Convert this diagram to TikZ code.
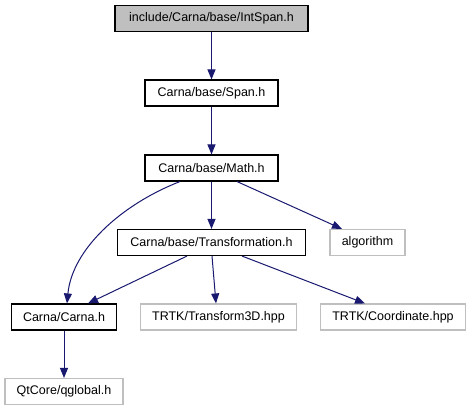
\documentclass[tikz,border=0pt]{standalone}
\usepackage{fontspec}
\setmainfont{Liberation Sans}
\usetikzlibrary{arrows.meta}
\definecolor{edgeblue}{HTML}{191970}
\definecolor{extgray}{HTML}{BFBFBF}
\begin{document}
\begin{tikzpicture}[
    x=1pt, y=-1pt,
    file/.style={draw, line width=1.1pt, minimum height=26, inner sep=0pt, font=\fontsize{12.5}{14}\selectfont},
    extfile/.style={file, draw=extgray},
    incl/.style={draw=edgeblue, line width=1pt, -{Triangle[length=10,width=8]}, edgeblue}
]
    \useasboundingbox (0,0) rectangle (471,411);

    % Files of the project
    \node[file, fill=extgray, minimum width=193] (intspan) at (211.5,18.5) {include/Carna/base/IntSpan.h};
    \node[file, minimum width=133] (span) at (211.5,93) {Carna/base/Span.h};
    \node[file, minimum width=133] (math) at (211.5,168) {Carna/base/Math.h};
    \node[file, minimum width=188] (transf) at (211.5,242.5) {Carna/base/Transformation.h};
    \node[file, minimum width=105] (carna) at (64,317) {Carna/Carna.h};

    % External headers
    \node[extfile, minimum width=75] (algo) at (367.5,242.5) {algorithm};
    \node[extfile, minimum width=156] (trans3d) at (218.5,317) {TRTK/Transform3D.hpp};
    \node[extfile, minimum width=145] (coord) at (393,317) {TRTK/Coordinate.hpp};
    \node[extfile, minimum width=118] (qglobal) at (64,391.5) {QtCore/qglobal.h};

    % Include edges
    \draw[incl] (intspan) -- (span);
    \draw[incl] (span) -- (math);
    \draw[incl] (math) -- (transf);
    \draw[incl] ([xshift=25.5]math.south) -- ([xshift=-25.5]algo.north);
    \draw[incl] ([xshift=-31.5]math.south) .. controls (120,205) and (72,250) .. ([xshift=3]carna.north);
    \draw[incl] ([xshift=-24.5]transf.south) -- ([xshift=24]carna.north);
    \draw[incl] ([xshift=0.5]transf.south) -- ([xshift=-2.5]trans3d.north);
    \draw[incl] ([xshift=30.5]transf.south) -- ([xshift=-28]coord.north);
    \draw[incl] (carna) -- (qglobal);

\end{tikzpicture}
\end{document}
